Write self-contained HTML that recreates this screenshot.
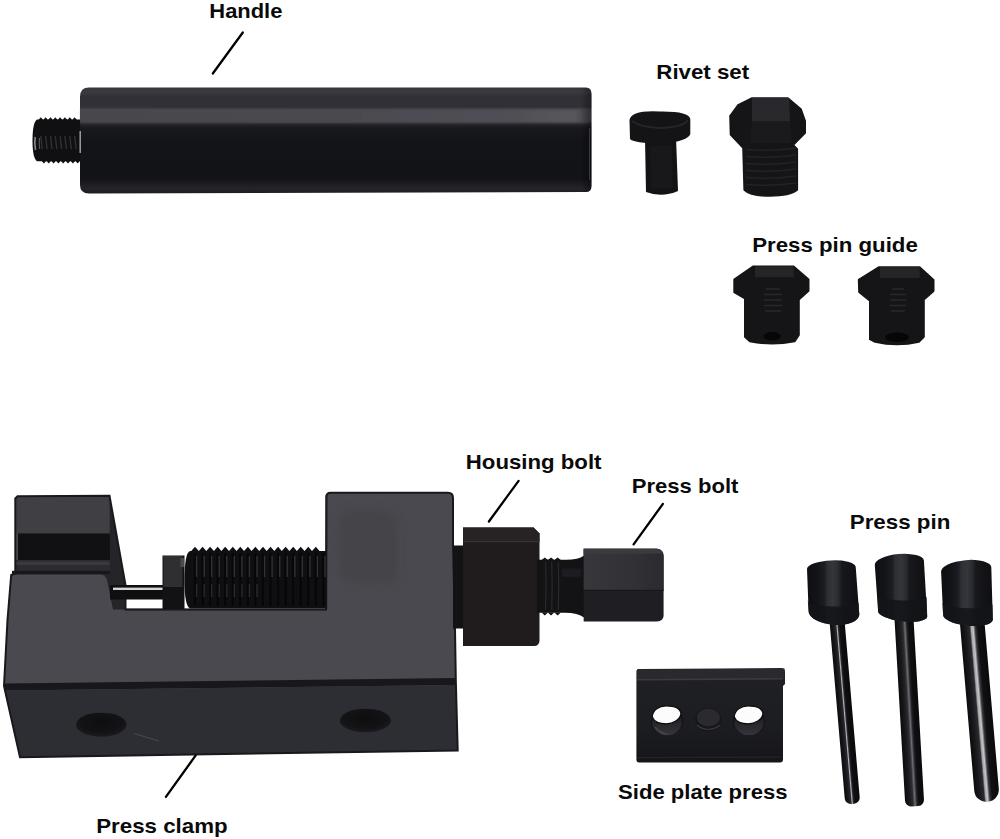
<!DOCTYPE html>
<html><head><meta charset="utf-8"><title>Chain breaker tool kit</title>
<style>
html,body{margin:0;padding:0;background:#fff;width:1000px;height:839px;overflow:hidden}
svg{display:block}
text{font-family:"Liberation Sans",sans-serif;font-weight:bold;font-size:21px;fill:#0a0a0a}
</style></head>
<body>
<svg width="1000" height="839" viewBox="0 0 1000 839">
<defs>
  <filter id="blur4" x="-30%" y="-30%" width="160%" height="160%"><feGaussianBlur stdDeviation="4"/></filter>
  <filter id="blur2" x="-30%" y="-30%" width="160%" height="160%"><feGaussianBlur stdDeviation="2"/></filter>
  <linearGradient id="gHandle" x1="0" y1="88" x2="0" y2="194" gradientUnits="userSpaceOnUse">
    <stop offset="0" stop-color="#36363c"/>
    <stop offset="0.038" stop-color="#3a3a40"/>
    <stop offset="0.08" stop-color="#303036"/>
    <stop offset="0.179" stop-color="#303036"/>
    <stop offset="0.203" stop-color="#46454b"/>
    <stop offset="0.264" stop-color="#4b4a50"/>
    <stop offset="0.316" stop-color="#434248"/>
    <stop offset="0.34" stop-color="#26262b"/>
    <stop offset="0.38" stop-color="#18181d"/>
    <stop offset="0.5" stop-color="#131418"/>
    <stop offset="0.85" stop-color="#121317"/>
    <stop offset="0.95" stop-color="#242429"/>
    <stop offset="1" stop-color="#1c1c20"/>
  </linearGradient>
  <linearGradient id="gBand" x1="0" y1="0" x2="1" y2="0">
    <stop offset="0" stop-color="#48474d"/>
    <stop offset="0.5" stop-color="#4b4a50"/>
    <stop offset="0.85" stop-color="#504f55"/>
    <stop offset="0.97" stop-color="#58575d"/>
    <stop offset="1" stop-color="#46454b"/>
  </linearGradient>
  <filter id="blur08" x="-5%" y="-30%" width="110%" height="160%"><feGaussianBlur stdDeviation="0.8"/></filter>
  <linearGradient id="gHandleEnd" x1="0" y1="0" x2="1" y2="0">
    <stop offset="0" stop-color="#000" stop-opacity="0"/>
    <stop offset="1" stop-color="#000" stop-opacity="0.35"/>
  </linearGradient>
  <linearGradient id="gPinHead" x1="0" y1="0" x2="1" y2="0">
    <stop offset="0" stop-color="#0e0f13"/>
    <stop offset="0.2" stop-color="#131418"/>
    <stop offset="0.33" stop-color="#1c1d22"/>
    <stop offset="0.39" stop-color="#2e2f35"/>
    <stop offset="0.5" stop-color="#35363c"/>
    <stop offset="0.6" stop-color="#2a2b30"/>
    <stop offset="0.67" stop-color="#17181c"/>
    <stop offset="1" stop-color="#0f0f12"/>
  </linearGradient>
  <linearGradient id="gShaft1" x1="0" y1="0" x2="1" y2="0">
    <stop offset="0" stop-color="#0b0b0d"/>
    <stop offset="0.25" stop-color="#1a1a1e"/>
    <stop offset="0.40" stop-color="#2a2a2e"/>
    <stop offset="0.47" stop-color="#b8b8bc"/>
    <stop offset="0.55" stop-color="#2a2a2e"/>
    <stop offset="0.65" stop-color="#0f0f12"/>
    <stop offset="1" stop-color="#0a0a0c"/>
  </linearGradient>
  <linearGradient id="gShaft2" x1="0" y1="0" x2="1" y2="0">
    <stop offset="0" stop-color="#0b0b0d"/>
    <stop offset="0.25" stop-color="#1a1a1e"/>
    <stop offset="0.42" stop-color="#2e2e32"/>
    <stop offset="0.52" stop-color="#6e6e72"/>
    <stop offset="0.62" stop-color="#26262a"/>
    <stop offset="0.72" stop-color="#0f0f12"/>
    <stop offset="1" stop-color="#0a0a0c"/>
  </linearGradient>
  <linearGradient id="gShaft3" x1="0" y1="0" x2="1" y2="0">
    <stop offset="0" stop-color="#0b0b0d"/>
    <stop offset="0.22" stop-color="#1a1a1e"/>
    <stop offset="0.38" stop-color="#2c2c30"/>
    <stop offset="0.44" stop-color="#a8a8ac"/>
    <stop offset="0.52" stop-color="#c4c4c8"/>
    <stop offset="0.60" stop-color="#3a3a3e"/>
    <stop offset="0.70" stop-color="#111114"/>
    <stop offset="1" stop-color="#0a0a0c"/>
  </linearGradient>
  <linearGradient id="gPlate" x1="0" y1="0" x2="0" y2="1">
    <stop offset="0" stop-color="#202125"/>
    <stop offset="0.6" stop-color="#1c1d21"/>
    <stop offset="1" stop-color="#161619"/>
  </linearGradient>
  <linearGradient id="gPB" x1="0" y1="0" x2="1" y2="0">
    <stop offset="0" stop-color="#37373b"/>
    <stop offset="0.6" stop-color="#323236"/>
    <stop offset="1" stop-color="#2b2b2f"/>
  </linearGradient>
  <linearGradient id="gHoleWall" x1="0" y1="0" x2="0" y2="1">
    <stop offset="0.4" stop-color="#222226"/>
    <stop offset="1" stop-color="#34343a"/>
  </linearGradient>
  <radialGradient id="gHole" cx="0.5" cy="0.4" r="0.6">
    <stop offset="0" stop-color="#0e0e11"/>
    <stop offset="0.7" stop-color="#131316"/>
    <stop offset="1" stop-color="#1c1c20"/>
  </radialGradient>
</defs>

<!-- ============ HANDLE ============ -->
<text x="209.3" y="17.6" textLength="73.1" lengthAdjust="spacingAndGlyphs">Handle</text>
<line x1="242.8" y1="32.5" x2="212.8" y2="73.5" stroke="#000" stroke-width="2.3" stroke-linecap="round"/>
<path d="M37,119.6 L82,119.6 L82,161.2 L37,161.2 Q32.5,158 32.5,140.4 Q32.5,122.5 37,119.6 Z" fill="#101013"/>
<path d="M38.4,120.0 L40.8,117.2 L43.2,120.0Z M43.2,120.0 L45.6,117.2 L48.0,120.0Z M48.0,120.0 L50.5,117.2 L52.9,120.0Z M52.9,120.0 L55.3,117.2 L57.7,120.0Z M57.7,120.0 L60.1,117.2 L62.5,120.0Z M62.5,120.0 L64.9,117.2 L67.4,120.0Z M67.4,120.0 L69.8,117.2 L72.2,120.0Z M72.2,120.0 L74.6,117.2 L77.0,120.0Z M41.5,160.8 L43.9,163.5 L46.3,160.8Z M46.3,160.8 L48.7,163.5 L51.1,160.8Z M51.1,160.8 L53.6,163.5 L56.0,160.8Z M56.0,160.8 L58.4,163.5 L60.8,160.8Z M60.8,160.8 L63.2,163.5 L65.6,160.8Z M65.6,160.8 L68.0,163.5 L70.5,160.8Z M70.5,160.8 L72.9,163.5 L75.3,160.8Z M75.3,160.8 L77.7,163.5 L80.1,160.8Z" fill="#101013"/>
<path d="M40.8,136 L42.3,149 M45.6,136 L47.1,149 M50.5,136 L52.0,149 M55.3,136 L56.8,149 M60.1,136 L61.6,149 M64.9,136 L66.4,149 M69.8,136 L71.3,149 M74.6,136 L76.1,149" stroke="#34343a" stroke-width="1.4" opacity="0.9"/>
<path d="M35.2,137 Q34.2,143 35.5,150" fill="none" stroke="#8c8c90" stroke-width="1.6"/>
<path d="M39.5,138 Q39,143 39.6,149" fill="none" stroke="#55555a" stroke-width="1.2"/>
<path d="M89,87.6 L586,87.6 Q591.5,87.6 591.5,94 L591.5,186 Q591.5,192 586,192 L89,193.5 Q80,193.5 80,185 L80,97 Q80,87.6 89,87.6 Z" fill="url(#gHandle)"/>
<rect x="81" y="110" width="507" height="12.5" fill="url(#gBand)" filter="url(#blur08)"/>
<path d="M80.2,131 L80.2,153" stroke="#a8a8ac" stroke-width="1.4"/>
<rect x="580" y="88" width="11.5" height="104" rx="6" fill="url(#gHandleEnd)"/>
<path d="M589.5,128 L589.5,180" stroke="#3a3a3e" stroke-width="1"/>

<!-- ============ RIVET SET ============ -->
<text x="656.3" y="78.6" textLength="92.9" lengthAdjust="spacingAndGlyphs">Rivet set</text>
<!-- small rivet -->
<path d="M645,139 L676,137 L678,191 Q662,198 646,192 Z" fill="#131315"/>
<path d="M629.5,120 Q631,110 659.5,111.5 Q689,111 690.3,119 L690.3,134 Q688,141 662,144 Q633,143 630,139 Z" fill="#141416"/>
<path d="M632,121 Q640,127 660,128 Q684,127 688,120" fill="none" stroke="#26262a" stroke-width="2"/>
<path d="M650,146 L672,145 L673,188 L651,189 Z" fill="#18181b"/>
<!-- hex bolt -->
<path d="M730,116 L738,105 L752,98 L788,98 L801,109 L805.2,121 L805.2,133 L793.4,145 L797.3,149 L797.3,190 Q790,196 770,196 Q750,196 744.2,190 L743,148 L730.5,134.6 Z" fill="#151517" stroke="#151517" stroke-width="1.6" stroke-linejoin="round"/>
<path d="M752,98 L789,98 L790,121.5 L752,121.5 Z" fill="#29292d"/>
<path d="M752,121.5 L790,121.5 L792,143 L750,143 Z" fill="#1a1a1d"/>
<path d="M746,149.5 Q770,151.5 796,148 M746,156.5 Q770,158.5 796,155 M746,163.5 Q770,165.5 796,162 M746,170.5 Q770,172.5 796,169 M746,177.5 Q770,179.5 796,176 M746,184.5 Q770,186.5 796,183" fill="none" stroke="#232327" stroke-width="1.6"/>

<!-- ============ PRESS PIN GUIDE ============ -->
<text x="752.2" y="252.4" textLength="165.6" lengthAdjust="spacingAndGlyphs">Press pin guide</text>
<path d="M734.1,279.3 L752.9,266.4 L793.7,266.4 L808.7,279.3 L808.7,291 L799,299.7 L799,335 L794.7,341.5 Q772,346 749.7,341.5 L744.8,337 L744.8,298.6 L734.1,292.2 Z" fill="#151517" stroke="#151517" stroke-width="1.6" stroke-linejoin="round"/>
<path d="M755,266.6 L793.7,266.6 L793.7,277.2 L755,277.2 Z" fill="#252528"/>
<path d="M766,289 L780,289 M764,294.5 L782,294.5 M764,300 L782,300 M764,305.5 L782,305.5 M765,311 L781,311" stroke="#28282c" stroke-width="1.5"/>
<ellipse cx="772.2" cy="336.2" rx="8.6" ry="4.3" fill="#060607"/>
<path d="M858.6,279.8 L879,267 L919.7,267 L933.7,279.8 L933.7,291.1 L924,299.7 L924,337 L919,342 Q897,347 875,342 L869.8,339.4 L869.8,300.8 L859,292.2 Z" fill="#151517" stroke="#151517" stroke-width="1.6" stroke-linejoin="round"/>
<path d="M880,267.2 L919.7,267.2 L919.7,278 L880,278 Z" fill="#252528"/>
<path d="M892,289 L904,289 M890,294.5 L906,294.5 M890,300 L906,300 M890,305.5 L906,305.5 M891,311 L905,311" stroke="#28282c" stroke-width="1.5"/>
<ellipse cx="897.2" cy="337.3" rx="11.8" ry="4.8" fill="#060607"/>

<!-- ============ PRESS CLAMP ============ -->
<path d="M17.5,496.3 L109.5,495.8 L125.5,585 L125.5,609.5 L326,609.5 L326.4,496.5 Q326.6,492.7 330.5,492.7 L448,492.7 Q453,492.7 453,498 L453,545 L455,629 L455.8,680 L457.7,750.5 L20,757.2 L4,686 L7.5,620 L11.2,575 L15.3,573.5 L15.3,498.5 Z" fill="#4a494f"/>
<path d="M340,515 Q345,508 380,510 Q396,511 397,530 L397,580 Q390,586 360,583 Q340,582 339,570 Z" fill="#403f45" opacity="0.55" filter="url(#blur4)"/>
<!-- post top face -->
<path d="M16,497 L109.5,495.8 L110,533.5 L16,533.5 Z" fill="#403f44"/>
<!-- slot -->
<rect x="18" y="533.4" width="92" height="26.8" fill="#111114"/>
<!-- ledge -->
<rect x="16" y="560" width="94" height="11" fill="#2c2b30"/>
<rect x="16" y="561.5" width="94" height="3.5" rx="1.5" fill="#3a393e"/>
<rect x="12" y="570.8" width="98" height="3.6" fill="#18181c"/>
<!-- post side face -->
<path d="M109.5,495.8 L125.5,585 L125.5,609.5 L113,609.5 L107,580 Q105.5,575 100,574.3 L110,574 Z" fill="#252429"/>
<!-- floor edge -->
<path d="M125.5,609.5 L326,609.5" stroke="#2a292e" stroke-width="1.5"/>
<!-- dark edge between top and front face -->
<path d="M4,683.5 L455.5,678 L456,685 L4.5,690.5 Z" fill="#18181c"/>
<!-- front face -->
<path d="M4.5,690.5 L456,685 L457.7,750.5 L20,757.2 Z" fill="#2d2e33"/>
<!-- holes -->
<ellipse cx="101.3" cy="724.7" rx="25.3" ry="12" fill="url(#gHole)"/>
<ellipse cx="365.4" cy="720.5" rx="25.6" ry="11.8" fill="url(#gHole)"/>
<path d="M134,733.5 L159,741" stroke="#4a4a4e" stroke-width="1"/>
<!-- outline -->
<path d="M17.5,496.3 L109.5,495.8 L125.5,585 L125.5,609.5 L326,609.5 L326.4,496.5 Q326.6,492.7 330.5,492.7 L448,492.7 Q453,492.7 453,498 L453,545 L455,629 L455.8,680 L457.7,750.5 L20,757.2 L4,686 L7.5,620 L11.2,575 L15.3,573.5 L15.3,498.5 Z" fill="none" stroke="#19191d" stroke-width="2"/>
<path d="M326.4,609 L326.4,495" stroke="#1e1e22" stroke-width="1.6"/>
<!-- pin rod -->
<rect x="110" y="585" width="55" height="14.5" fill="#0f0f12"/>
<rect x="113" y="587.6" width="50" height="2.4" fill="#d4d4d6"/>
<!-- small nut -->
<rect x="162.5" y="555.5" width="22" height="53.5" fill="#121215"/>
<rect x="163.5" y="556" width="19" height="31" fill="#2f2f33"/>
<rect x="180.5" y="558" width="3.5" height="9" fill="#4a4a4e"/>
<!-- threaded screw -->
<path d="M190,551 L326.5,551 L326.5,608.5 L190,608.5 Q184.5,606 184.5,580 Q184.5,553 190,551 Z" fill="#0f0f12"/>
<path d="M191.2,551 L195.0,546.8 L198.8,551Z M198.8,551 L202.6,546.8 L206.3,551Z M206.3,551 L210.1,546.8 L213.9,551Z M213.9,551 L217.7,546.8 L221.4,551Z M221.4,551 L225.2,546.8 L229.0,551Z M229.0,551 L232.8,546.8 L236.5,551Z M236.5,551 L240.3,546.8 L244.1,551Z M244.1,551 L247.9,546.8 L251.6,551Z M251.6,551 L255.4,546.8 L259.2,551Z M259.2,551 L263.0,546.8 L266.7,551Z M266.7,551 L270.5,546.8 L274.3,551Z M274.3,551 L278.1,546.8 L281.8,551Z M281.8,551 L285.6,546.8 L289.4,551Z M289.4,551 L293.2,546.8 L296.9,551Z M296.9,551 L300.7,546.8 L304.5,551Z M304.5,551 L308.3,546.8 L312.0,551Z M312.0,551 L315.8,546.8 L319.6,551Z" fill="#0f0f12"/>
<path d="M195.0,553 L195.0,606 M202.6,553 L202.6,606 M210.1,553 L210.1,606 M217.7,553 L217.7,606 M225.2,553 L225.2,606 M232.8,553 L232.8,606 M240.3,553 L240.3,606 M247.8,553 L247.8,606 M255.4,553 L255.4,606 M262.9,553 L262.9,606 M270.5,553 L270.5,606 M278.1,553 L278.1,606 M285.6,553 L285.6,606 M293.1,553 L293.1,606 M300.7,553 L300.7,606 M308.2,553 L308.2,606 M315.8,553 L315.8,606 M323.4,553 L323.4,606" stroke="#070709" stroke-width="2.2"/>
<path d="M196.6,556 L196.6,577 M204.2,556 L204.2,577 M211.7,556 L211.7,577 M219.2,556 L219.2,577 M226.8,556 L226.8,577 M234.3,556 L234.3,577 M241.9,556 L241.9,577 M249.4,556 L249.4,577 M257.0,556 L257.0,577 M264.6,556 L264.6,577 M272.1,556 L272.1,577 M279.7,556 L279.7,577 M287.2,556 L287.2,577 M294.8,556 L294.8,577 M302.3,556 L302.3,577 M309.9,556 L309.9,577 M317.4,556 L317.4,577 M325.0,556 L325.0,577" stroke="#303036" stroke-width="1.4"/>
<path d="M196.6,584 L196.6,597 M204.2,584 L204.2,597 M211.7,584 L211.7,597 M219.2,584 L219.2,597 M226.8,584 L226.8,597 M234.3,584 L234.3,597 M241.9,584 L241.9,597 M249.4,584 L249.4,597 M257.0,584 L257.0,597" stroke="#2a2a30" stroke-width="1.3"/>

<!-- ============ HOUSING BOLT / PRESS BOLT ============ -->
<text x="465.8" y="469.3" textLength="135.7" lengthAdjust="spacingAndGlyphs">Housing bolt</text>
<line x1="518.6" y1="480.9" x2="488.9" y2="521.5" stroke="#000" stroke-width="2.3" stroke-linecap="round"/>
<text x="631.8" y="492.8" textLength="106.6" lengthAdjust="spacingAndGlyphs">Press bolt</text>
<line x1="662.9" y1="503.9" x2="633.6" y2="544.4" stroke="#000" stroke-width="2.3" stroke-linecap="round"/>
<!-- washer -->
<rect x="453" y="545.5" width="10.5" height="83" fill="#131315"/>
<!-- housing bolt -->
<path d="M463,527.5 L533.6,527.5 L539.5,533.4 L539.5,641 Q539,646 534,646 L463,646 Z" fill="#201b1c"/>
<path d="M463,527.5 L533.6,527.5 L539.5,533.4 L539.5,541.7 L463,541.7 Z" fill="#272223"/>
<path d="M463,541.7 L539.5,541.7" stroke="#3a3738" stroke-width="1"/>
<!-- threaded neck -->
<path d="M537,559.8 L565,559.8 Q578,560 584,555.5 L584,617.5 Q578,613 565,612.8 L537,612.8 Z" fill="#131316"/>
<path d="M541.6,560 L544.8,557.4 L548,560 M547.8,560 L551,557.4 L554.2,560 M554.4,560 L557.6,557.4 L560.8,560 M541.6,612.6 L544.8,615.6 L548,612.6 M547.8,612.6 L551,615.6 L554.2,612.6 M554.4,612.6 L557.6,615.6 L560.8,612.6" fill="#131316"/>
<path d="M545.5,562 Q546.5,586 545.5,610 M551.7,562 Q552.7,586 551.7,610 M558.3,562 Q559.3,586 558.3,610" fill="none" stroke="#29292d" stroke-width="1.2"/>
<rect x="562" y="569" width="19" height="8" fill="#1f1f23" filter="url(#blur08)"/>
<!-- press bolt -->
<path d="M583.7,548.7 L657,548.7 Q663.6,549.5 663.6,556 L663.6,616 Q663,621.4 657,621.4 L583.7,621.4 Z" fill="#1f1f23"/>
<path d="M583.7,548.7 L657,548.7 Q663.6,549.5 663.6,556 L663.6,590.4 L583.7,590.4 Z" fill="url(#gPB)"/>
<path d="M583.7,548.7 L657,548.7 Q661,549 662.5,553.5 L583.7,554.2 Z" fill="#3b3b3f"/>
<path d="M583.7,590.4 L663.6,590.4" stroke="#18181b" stroke-width="1.2"/>

<!-- ============ SIDE PLATE PRESS ============ -->
<path d="M636.4,671 Q636.6,669 639,669 L781,668.1 Q785,668.1 785,672 L785,684 L783,686 L783,759.5 Q783,762.4 780,762.4 L639,762.4 Q636.4,762.4 636.4,759.5 Z" fill="url(#gPlate)"/>
<path d="M637,669.5 L784.5,668.6 L784.5,679 L637,679.5 Z" fill="#29292e"/>
<path d="M637,679.7 L783,678.8" stroke="#3a3a3f" stroke-width="1.6"/>
<path d="M637,757.5 L782,757" stroke="#26262a" stroke-width="1.2"/>
<!-- holes -->
<ellipse cx="667" cy="721.5" rx="15.8" ry="14" fill="#0d0d10"/>
<ellipse cx="667" cy="722" rx="15" ry="13.3" fill="url(#gHoleWall)"/>
<path d="M652.3,717 C652.5,709.5 659.5,706 666,706 C674,706 680.5,708.5 681,714 C679.5,720.5 672.5,723.8 666.5,723.8 C659.5,723.8 654,721.5 652.3,717 Z" fill="#fcfcfc" stroke="#0a0a0c" stroke-width="1.2"/>
<path d="M655,727 Q660,733 668,734.5" fill="none" stroke="#48484c" stroke-width="1.2"/>
<ellipse cx="708.4" cy="719.7" rx="13.3" ry="11.7" fill="#17171b"/>
<ellipse cx="708.4" cy="717.5" rx="11.5" ry="9" fill="#2a2a2f"/>
<path d="M697,725 Q708,734 720,725" fill="none" stroke="#3a3a3e" stroke-width="1.2"/>
<ellipse cx="749" cy="721.5" rx="15.8" ry="14" fill="#0d0d10"/>
<ellipse cx="749" cy="722" rx="15" ry="13.3" fill="url(#gHoleWall)"/>
<path d="M734.3,717 C734.5,709.5 741.5,706 748,706 C756,706 762.5,708.5 763,714 C761.5,720.5 754.5,723.8 748.5,723.8 C741.5,723.8 736,721.5 734.3,717 Z" fill="#fcfcfc" stroke="#0a0a0c" stroke-width="1.2"/>
<text x="618.0" y="799.1" textLength="169.6" lengthAdjust="spacingAndGlyphs">Side plate press</text>

<!-- ============ PRESS PINS ============ -->
<text x="849.8" y="529" textLength="100.5" lengthAdjust="spacingAndGlyphs">Press pin</text>
<!-- pin 1 -->
<g transform="translate(836.1,610) rotate(-4.9)"><rect x="-7.5" y="0" width="15" height="194.5" rx="6" fill="url(#gShaft1)"/></g>
<path d="M807,569 A24.4,7.8 -2.7 0 1 855.7,566.7 L859.3,614.8 A25.4,12 4.5 0 1 808.6,610.8 Z" fill="url(#gPinHead)"/>
<path d="M807.8,600.5 A25.4,5 2.3 0 0 858.6,602.5 L859.3,614.8 A25.4,12 4.5 0 1 808.6,610.8 Z" fill="#131418" opacity="0.88"/>
<!-- pin 2 -->
<g transform="translate(903.5,610) rotate(-3.3)"><rect x="-9.5" y="0" width="19" height="196.5" rx="6" fill="url(#gShaft2)"/></g>
<path d="M874.8,565 A24.65,8.7 -5.2 0 1 923.9,560.5 L927.2,616.7 A24.7,7.5 6.6 0 1 878.1,611 Z" fill="url(#gPinHead)"/>
<path d="M877.5,594.5 A24.6,5 2.3 0 0 926.7,596.5 L927.2,616.7 A24.7,7.5 6.6 0 1 878.1,611 Z" fill="#131418" opacity="0.88"/>
<!-- pin 3 -->
<g transform="translate(971.3,612) rotate(-4.9)"><rect x="-12.3" y="0" width="24.6" height="190.5" rx="12" fill="url(#gShaft3)"/></g>
<path d="M941.1,571.8 A25.2,9.4 -5.2 0 1 991.3,567.2 L992.8,619.9 A25,8.7 5.9 0 1 943.1,614.8 Z" fill="url(#gPinHead)"/>
<path d="M942.5,602.5 A25,5 1.7 0 0 992.5,604 L992.8,619.9 A25,8.7 5.9 0 1 943.1,614.8 Z" fill="#131418" opacity="0.88"/>

<!-- clamp label -->
<text x="96.2" y="832.7" textLength="131.5" lengthAdjust="spacingAndGlyphs">Press clamp</text>
<line x1="195.7" y1="755.4" x2="165.9" y2="796.8" stroke="#000" stroke-width="2.3" stroke-linecap="round"/>

</svg>
</body></html>
